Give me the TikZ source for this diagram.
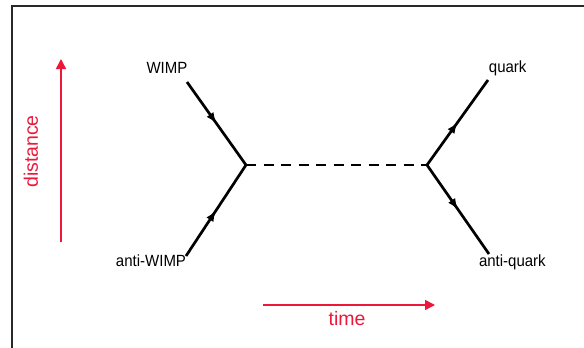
\documentclass[tikz,border=0pt]{standalone}
\usepackage{fontspec}
\setmainfont{Liberation Sans}
\usetikzlibrary{arrows.meta,decorations.markings}
\definecolor{axisred}{RGB}{236,24,58}
\definecolor{framegray}{RGB}{40,40,40}
\tikzset{
  fermion/.style={line width=2.7pt,black,
    postaction={decorate},
    decoration={markings,mark=at position 0.5 with {\arrow{Latex[length=11pt,width=8.5pt]}}}},
  boson/.style={line width=2.8pt,black,dash pattern=on 10pt off 7.5pt},
  axisarrow/.style={line width=1.5pt,axisred,-{Triangle[length=10pt,width=10pt]}},
  particle/.style={font=\fontsize{15}{17}\selectfont,anchor=base,inner sep=0pt,yscale=1.08},
  axislabel/.style={font=\fontsize{19.5}{22}\selectfont,text=axisred,inner sep=0pt}
}
\begin{document}
\begin{tikzpicture}[x=1pt,y=-1pt]
\useasboundingbox (0,0) rectangle (584,348);
% partial frame
\draw[framegray,line width=2pt] (11.5,348) -- (11.5,6) -- (584,6);

% vertices and line ends
\coordinate (vL) at (246,165);
\coordinate (vR) at (427,165);
\coordinate (inW) at (187,82);
\coordinate (inAW) at (186,256);
\coordinate (outQ) at (488,80);
\coordinate (outAQ) at (489,254);

% particle labels
\node[particle] (wimp) at (167,73) {WIMP};
\node[particle] (awimp) at (151,266) {anti-WIMP};
\node[particle] (quark) at (507.7,72) {quark};
\node[particle] (aquark) at (512.4,266) {anti-quark};

% fermion lines
\draw[fermion] (inW) -- (vL);
\draw[fermion] (inAW) -- (vL);
\draw[fermion] (vR) -- (outQ);
\draw[fermion] (vR) -- (outAQ);

% exchanged particle
\draw[boson] (vL) -- (vR);

% axes
\coordinate (d0) at (61,242);
\coordinate (d1) at (61,59);
\coordinate (t0) at (263,305);
\coordinate (t1) at (435,305);
\draw[axisarrow] (d0) -- (d1);
\draw[axisarrow] (t0) -- (t1);
\node[axislabel,rotate=90] (dist) at (31,151.5) {distance};
\node[axislabel,anchor=base] (time) at (347,325) {time};
\end{tikzpicture}
\end{document}
